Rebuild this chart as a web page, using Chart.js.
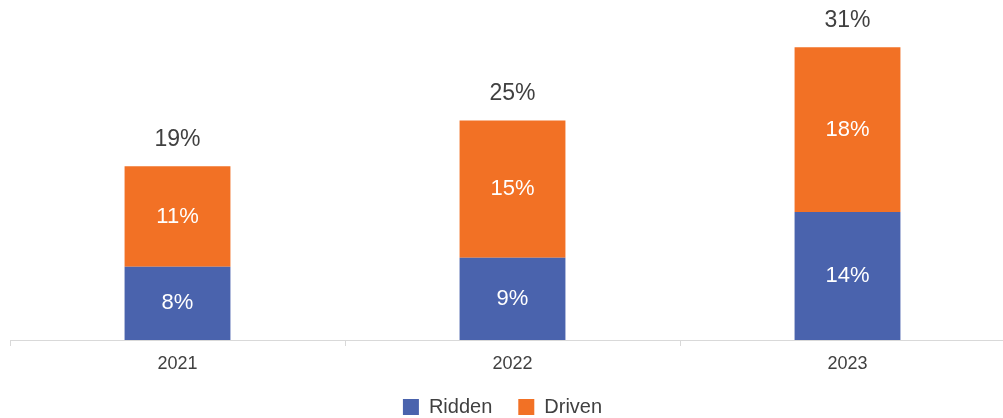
<!DOCTYPE html>
<html>
<head>
<meta charset="utf-8">
<script src="https://cdn.jsdelivr.net/npm/chart.js@4"></script>
<style>
  html, body { margin: 0; padding: 0; background: #fff; overflow: hidden; }
  #wrap { width: 1015px; height: 418px; }
</style>
</head>
<body>
<div id="wrap"><canvas id="chart"></canvas></div>
<script>
(() => {

const years = ["2021", "2022", "2023"];
const ridden = [8, 9, 14];
const driven = [11, 15, 18];
const totalLabels = ["19%", "25%", "31%"];

const BLUE = "#4a63ad";
const ORANGE = "#f27125";
const TEXT = "#404040";
const FONT = "'Liberation Sans', Arial, Helvetica, sans-serif";

/* ---------- LABEL PLUGIN ---------- */

const barLabels = {
  id: "barLabels",
  beforeInit(chart) {
    // tighten the legend box so it sits right under the axis
    const fit = chart.legend.fit;
    chart.legend.fit = function () {
      fit.call(chart.legend);
      this.height -= 9;
    };
  },
  afterLayout(chart) {
    // legend sits a little left of the plot centre
    chart.legend.left -= 20;
  },
  afterDatasetsDraw(chart) {
    const ctx = chart.ctx;
    ctx.save();
    ctx.textAlign = "center";
    ctx.textBaseline = "middle";

    chart.data.datasets.forEach((ds, di) => {
      const meta = chart.getDatasetMeta(di);
      meta.data.forEach((bar, i) => {
        ctx.font = "22px " + FONT;
        ctx.fillStyle = "#ffffff";
        ctx.fillText(ds.data[i] + "%", bar.x, (bar.y + bar.base) / 2);
      });
    });

    // totals above the stacks
    const top = chart.getDatasetMeta(chart.data.datasets.length - 1);
    top.data.forEach((bar, i) => {
      ctx.font = "23px " + FONT;
      ctx.fillStyle = TEXT;
      ctx.fillText(totalLabels[i], bar.x, bar.y - 27);
    });
    ctx.restore();
  }
};

/* ---------- CHART ---------- */

new Chart(document.getElementById("chart"), {
  type: "bar",
  data: {
    labels: years,
    datasets: [
      { label: "Ridden", data: ridden, backgroundColor: BLUE, stack: "s" },
      { label: "Driven", data: driven, backgroundColor: ORANGE, stack: "s" }
    ]
  },
  options: {
    responsive: true,
    maintainAspectRatio: false,
    animation: false,
    layout: { padding: { top: 29, left: 10, right: 0, bottom: 0 } },
    datasets: {
      bar: { categoryPercentage: 1, barPercentage: 0.316 }
    },
    plugins: {
      legend: {
        position: "bottom",
        labels: {
          boxWidth: 16,
          boxHeight: 16,
          padding: 26,
          color: TEXT,
          font: { family: FONT, size: 20 }
        }
      },
      tooltip: { enabled: false }
    },
    scales: {
      x: {
        stacked: true,
        afterFit(scale) { scale.height = 31; },
        grid: {
          offset: true,
          drawOnChartArea: false,
          drawTicks: true,
          tickLength: 6,
          color: "#d9d9d9"
        },
        border: { display: true, color: "#d9d9d9" },
        ticks: {
          color: TEXT,
          padding: 7,
          font: { family: FONT, size: 18 }
        }
      },
      y: {
        stacked: true,
        display: false,
        min: 0,
        max: 34
      }
    }
  },
  plugins: [barLabels]
});

})();
</script>
</body>
</html>
